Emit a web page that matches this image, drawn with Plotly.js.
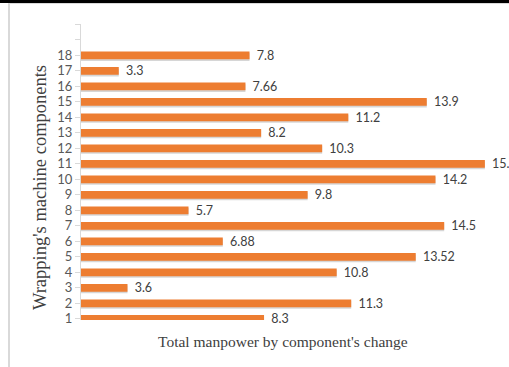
<!DOCTYPE html>
<html>
<head>
<meta charset="utf-8">
<script src="https://cdn.plot.ly/plotly-3.0.1.min.js"></script>
<style>
html,body{margin:0;padding:0;background:#fff;}
#wrap{position:relative;width:509px;height:367px;overflow:hidden;}
#chart{position:absolute;left:0;top:0;width:509px;height:367px;}
#topbar{position:absolute;left:0;top:0;width:509px;height:3px;background:#000;}
#topline{position:absolute;left:9px;top:3px;width:500px;height:1px;background:#d9d9d9;}
#leftline{position:absolute;left:8px;top:3px;width:2px;height:364px;background:#d9d9d9;}
</style>
</head>
<body>
<div id="wrap">
<div id="chart"></div>
<div id="topbar"></div>
<div id="topline"></div>
<div id="leftline"></div>
</div>
<script>
const components = [1, 2, 3, 4, 5, 6, 7, 8, 9, 10, 11, 12, 13, 14, 15, 16, 17, 18];
const manpower = [8.3, 11.3, 3.6, 10.8, 13.52, 6.88, 14.5, 5.7, 9.8, 14.2, 15.9, 10.3, 8.2, 11.2, 13.9, 7.66, 3.3, 7.8];
const valueLabels = ["8.3", "11.3", "3.6", "10.8", "13.52", "6.88", "14.5", "5.7", "9.8", "14.2", "15.9", "10.3", "8.2", "11.2", "13.9", "7.66", "3.3", "7.8"];
const tickValues = [1, 2, 3, 4, 5, 6, 7, 8, 9, 10, 11, 12, 13, 14, 15, 16, 17, 18, 19, 20];
const tickLabels = ["1", "2", "3", "4", "5", "6", "7", "8", "9", "10", "11", "12", "13", "14", "15", "16", "17", "18", "", ""];
const xTitle = "Total manpower by component's change";
const yTitle = "Wrapping's machine components";

const narrow = "Lato, Liberation Sans, Arial, sans-serif";
const serif = "Liberation Serif, Times New Roman, serif";

const shadow = {
  type: 'bar', orientation: 'h',
  x: manpower, y: components,
  width: 0.5, offset: -0.36,
  marker: {color: 'rgba(0,0,0,0.16)'},
  hoverinfo: 'skip', showlegend: false
};
const bars = {
  type: 'bar', orientation: 'h',
  x: manpower, y: components,
  width: 0.5,
  marker: {color: '#ED7D31'},
  text: valueLabels.map(v => '\u2004' + v),
  textposition: 'outside',
  constraintext: 'none',
  cliponaxis: false,
  textfont: {family: narrow, size: 12.5, color: '#404040'},
  hoverinfo: 'skip', showlegend: false
};

const layout = {
  width: 509, height: 367,
  margin: {l: 81, r: 0, t: 24, b: 47, pad: 0},
  paper_bgcolor: '#fff', plot_bgcolor: '#fff',
  barmode: 'overlay',
  showlegend: false,
  xaxis: {range: [2, 16.73], visible: false, fixedrange: true},
  yaxis: {
    type: 'linear', range: [0.92, 20.02],
    tickmode: 'array', tickvals: tickValues, ticktext: tickLabels,
    ticks: 'outside', ticklen: 5, tickcolor: '#d9d9d9', tickwidth: 1,
    showline: true, linecolor: '#d9d9d9', linewidth: 1,
    showgrid: false, zeroline: false,
    tickfont: {family: narrow, size: 13, color: '#595959'},
    fixedrange: true
  },
  annotations: [
    {text: xTitle, xref: 'paper', yref: 'paper', x: 0.472, y: -0.072,
     xanchor: 'center', yanchor: 'middle', showarrow: false,
     font: {family: serif, size: 15.5, color: '#404040'}},
    {text: yTitle, xref: 'paper', yref: 'paper', x: -0.096, y: 0.449,
     xanchor: 'center', yanchor: 'middle', showarrow: false, textangle: -90,
     font: {family: serif, size: 18.5, color: '#404040'}}
  ]
};

Plotly.newPlot('chart', [shadow, bars], layout, {staticPlot: true, displayModeBar: false});
</script>
</body>
</html>
